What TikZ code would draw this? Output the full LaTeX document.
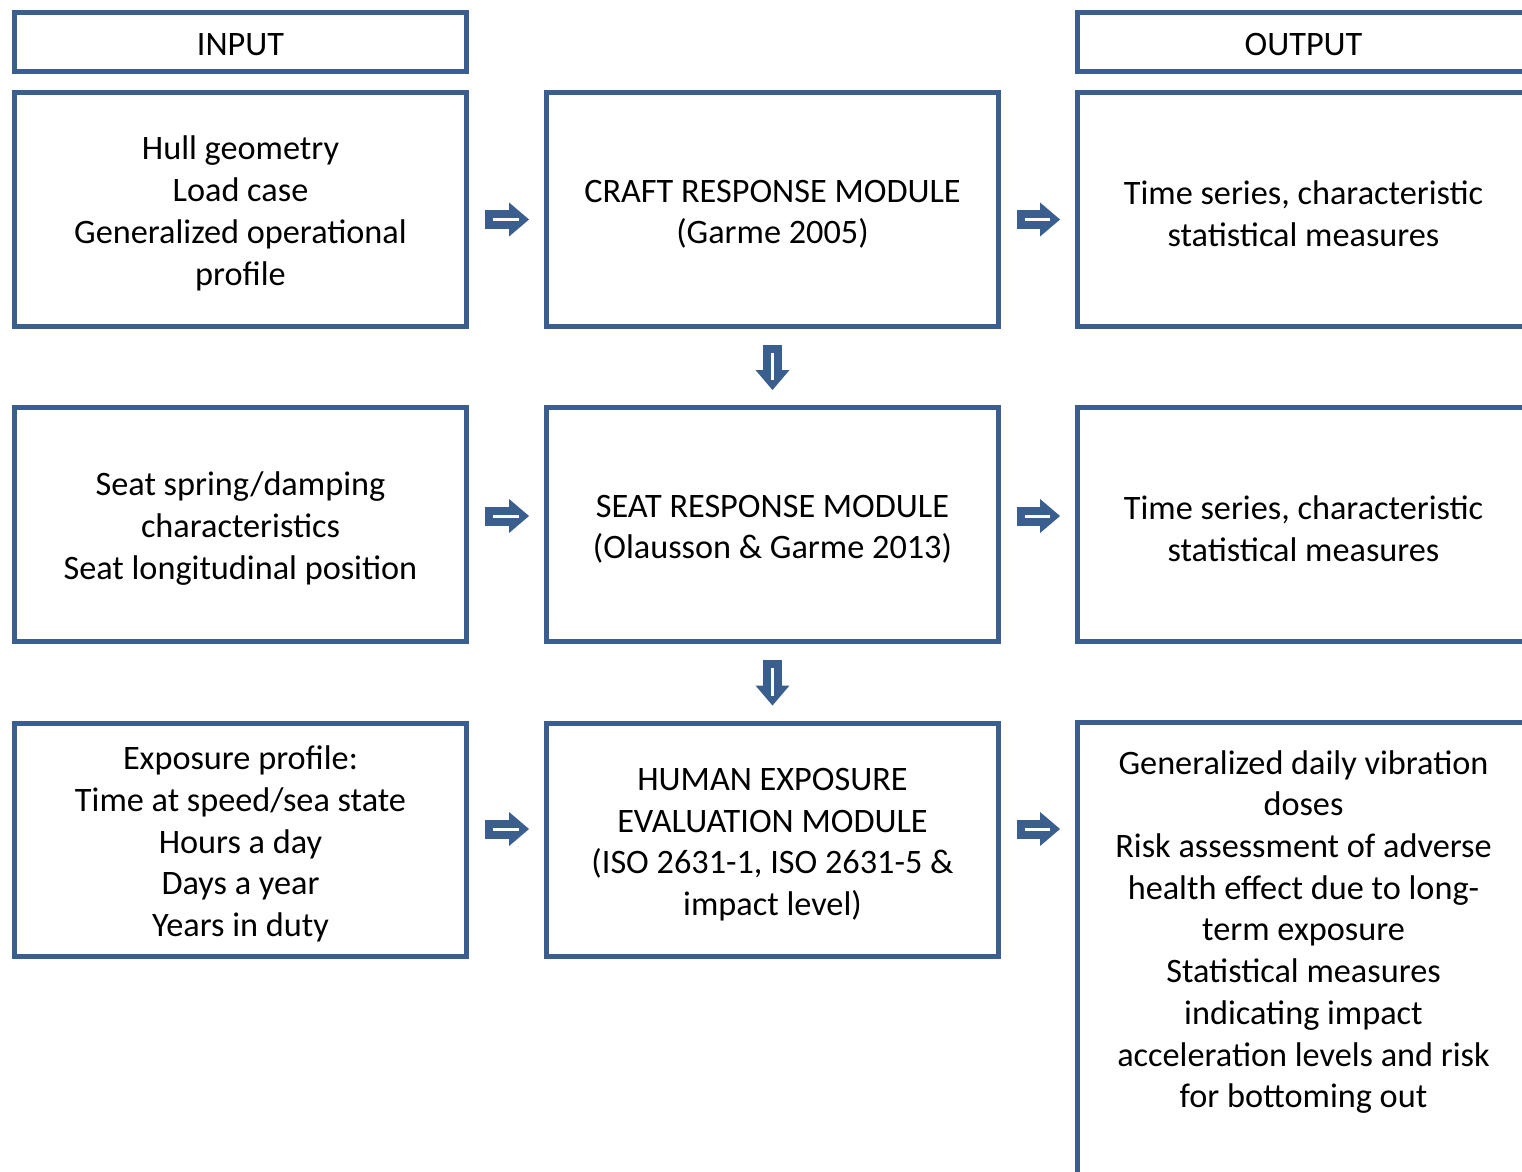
\documentclass[tikz,border=0pt]{standalone}
\usepackage{fontspec}
\setmainfont{Carlito}
\usetikzlibrary{arrows.meta,positioning}
\definecolor{boxblue}{HTML}{3A5F8E}
\newcommand{\tstrut}{\rule{0pt}{18pt}}

\begin{document}
\begin{tikzpicture}[
    x=0.02cm, y=-0.02cm,
    every node/.style={font=\fontsize{19.5pt}{23.75pt}\selectfont, align=center, inner sep=0pt},
    box/.style={draw=boxblue, line width=2.85pt, minimum width=9.04cm, minimum height=4.68cm},
    head/.style={box, minimum height=1.19cm, execute at begin node={\rule{0pt}{16pt}}},
    fatarrow/.style={draw=boxblue, line width=10.8pt, shorten <=0.32cm, shorten >=0.3cm,
        -{Triangle[length=11.4pt, width=19.4pt, line width=0pt]}},
    slit/.style={draw=white, line width=1.7pt, shorten <=0.48cm, shorten >=0.5cm}
]
\useasboundingbox (0,0) rectangle (1522,1171);
\clip (0,0) rectangle (1522,1171);

\node[head] (inhead) at (240.5,42) {INPUT};
\node[head] (outhead) at (1303.5,42) {OUTPUT};

\node[box] (in1) at (240.5,209.5) {\tstrut Hull geometry\\Load case\\Generalized operational\\profile};
\node[box] (craft) at (772.5,209.5) {\tstrut CRAFT RESPONSE MODULE\\(Garme 2005)};
\node[box] (out1) at (1303.5,209.5) {\tstrut Time series, characteristic\\statistical measures};

\node[box] (in2) at (240.5,524.5) {\tstrut Seat spring/damping\\characteristics\\Seat longitudinal position};
\node[box] (seat) at (772.5,524.5) {\tstrut SEAT RESPONSE MODULE\\(Olausson \& Garme 2013)};
\node[box] (out2) at (1303.5,524.5) {\tstrut Time series, characteristic\\statistical measures};

\node[box] (in3) at (240.5,840) {\tstrut Exposure profile:\\Time at speed/sea state\\Hours a day\\Days a year\\Years in duty};
\node[box] (human) at (772.5,840) {\tstrut HUMAN EXPOSURE\\EVALUATION MODULE\\(ISO 2631-1, ISO 2631-5 \&\\impact level)};
\node[box, minimum height=10cm] (out3) at (1303.5,972.5) {};
\node (out3txt) at (1303.5,932) {Generalized daily vibration\\doses\\Risk assessment of adverse\\health effect due to long-\\term exposure\\Statistical measures\\indicating impact\\acceleration levels and risk\\for bottoming out};

% arrows, row 1
\draw[fatarrow] ([yshift=-0.2cm]in1.east) -- ([yshift=-0.2cm]craft.west);
\draw[slit] ([yshift=-0.2cm]in1.east) -- ([yshift=-0.2cm]craft.west);
\draw[fatarrow] ([yshift=-0.2cm]craft.east) -- ([yshift=-0.2cm]out1.west);
\draw[slit] ([yshift=-0.2cm]craft.east) -- ([yshift=-0.2cm]out1.west);

% arrows, row 2
\draw[fatarrow] ([yshift=0.17cm]in2.east) -- ([yshift=0.17cm]seat.west);
\draw[slit] ([yshift=0.17cm]in2.east) -- ([yshift=0.17cm]seat.west);
\draw[fatarrow] ([yshift=0.17cm]seat.east) -- ([yshift=0.17cm]out2.west);
\draw[slit] ([yshift=0.17cm]seat.east) -- ([yshift=0.17cm]out2.west);

% arrows, row 3
\draw[fatarrow] ([yshift=0.22cm]in3.east) -- ([yshift=0.22cm]human.west);
\draw[slit] ([yshift=0.22cm]in3.east) -- ([yshift=0.22cm]human.west);
\draw[fatarrow] ([yshift=0.22cm]human.east) -- ([yshift=0.22cm]out3.west |- human.east);
\draw[slit] ([yshift=0.22cm]human.east) -- ([yshift=0.22cm]out3.west |- human.east);

% arrows down the middle
\draw[fatarrow] (craft) -- (seat);
\draw[slit] (craft) -- (seat);
\draw[fatarrow] (seat) -- (human);
\draw[slit] (seat) -- (human);
\end{tikzpicture}
\end{document}
